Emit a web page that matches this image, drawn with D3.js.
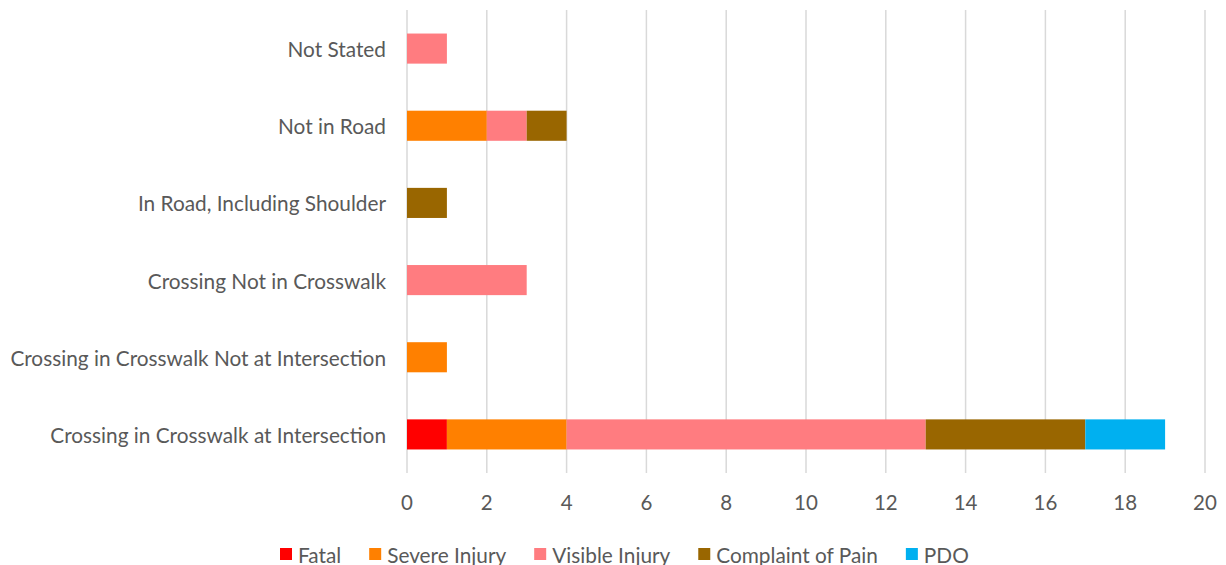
<!DOCTYPE html>
<html><head><meta charset="utf-8">
<script src="https://cdn.jsdelivr.net/npm/d3@7"></script>
<style>body{margin:0;background:#fff;} text{font-family:Lato,"Open Sans",sans-serif;fill:#595959;}</style>
</head><body>
<svg id="c" width="1226" height="565"></svg>
<script>
const categories = ["Not Stated","Not in Road","In Road, Including Shoulder","Crossing Not in Crosswalk","Crossing in Crosswalk Not at Intersection","Crossing in Crosswalk at Intersection"];
const seriesNames = ["Fatal","Severe Injury","Visible Injury","Complaint of Pain","PDO"];
const fatal     = [0,0,0,0,0,1];
const severe    = [0,2,0,0,1,3];
const visible   = [1,1,0,3,0,9];
const complaint = [0,1,1,0,0,4];
const pdo       = [0,0,0,0,0,2];
const colors = ["#FF0000","#FF8000","#FF7C80","#996600","#00B0F0"];
const xTicks = [0,2,4,6,8,10,12,14,16,18,20];

(function(){
const series = [fatal,severe,visible,complaint,pdo];
const rows = categories.map((c,i)=>{const o={cat:c}; seriesNames.forEach((s,j)=>o[s]=series[j][i]); return o;});
const stack = d3.stack().keys(seriesNames)(rows);

const svg = d3.select("#c");
const mL=407, mR=1205, mT=10, mB=473;
const x = d3.scaleLinear().domain([0,20]).range([mL,mR]);
const y = d3.scaleBand().domain(categories).range([mT,mB]).paddingInner(0.61).paddingOuter(0.305);

svg.append("g").selectAll("line").data(xTicks).join("line")
  .attr("x1",d=>x(d)).attr("x2",d=>x(d)).attr("y1",mT).attr("y2",mB)
  .attr("stroke","#d9d9d9").attr("stroke-width",1.5);

svg.append("g").selectAll("g").data(stack).join("g").attr("fill",(d,i)=>colors[i])
  .selectAll("rect").data(d=>d).join("rect")
  .attr("x",d=>x(d[0])).attr("width",d=>x(d[1])-x(d[0]))
  .attr("y",d=>y(d.data.cat)).attr("height",y.bandwidth());

svg.append("g").selectAll("text").data(xTicks).join("text")
  .attr("x",d=>x(d)).attr("y",502).attr("text-anchor","middle").attr("dominant-baseline","central")
  .attr("font-size",20.5).text(d=>d);

svg.append("g").selectAll("text").data(categories).join("text")
  .attr("x",386).attr("y",d=>y(d)+y.bandwidth()/2).attr("text-anchor","end").attr("dominant-baseline","central")
  .attr("font-size",20.8).text(d=>d);

const lg = svg.append("g");
let items = [];
let tot = 0;
seriesNames.forEach((s,i)=>{
  const g = lg.append("g");
  g.append("rect").attr("x",0).attr("y",548).attr("width",12).attr("height",12).attr("fill",colors[i]);
  const t = g.append("text").attr("x",18).attr("y",554).attr("dominant-baseline","central").attr("font-size",20.8).text(s);
  const w = 18 + t.node().getComputedTextLength();
  items.push({g,w}); tot += w;
});
const gap = 28;
let cx = 280;
items.forEach(it=>{ it.g.attr("transform",`translate(${cx},0)`); cx += it.w + gap; });
})();
</script>
</body></html>
